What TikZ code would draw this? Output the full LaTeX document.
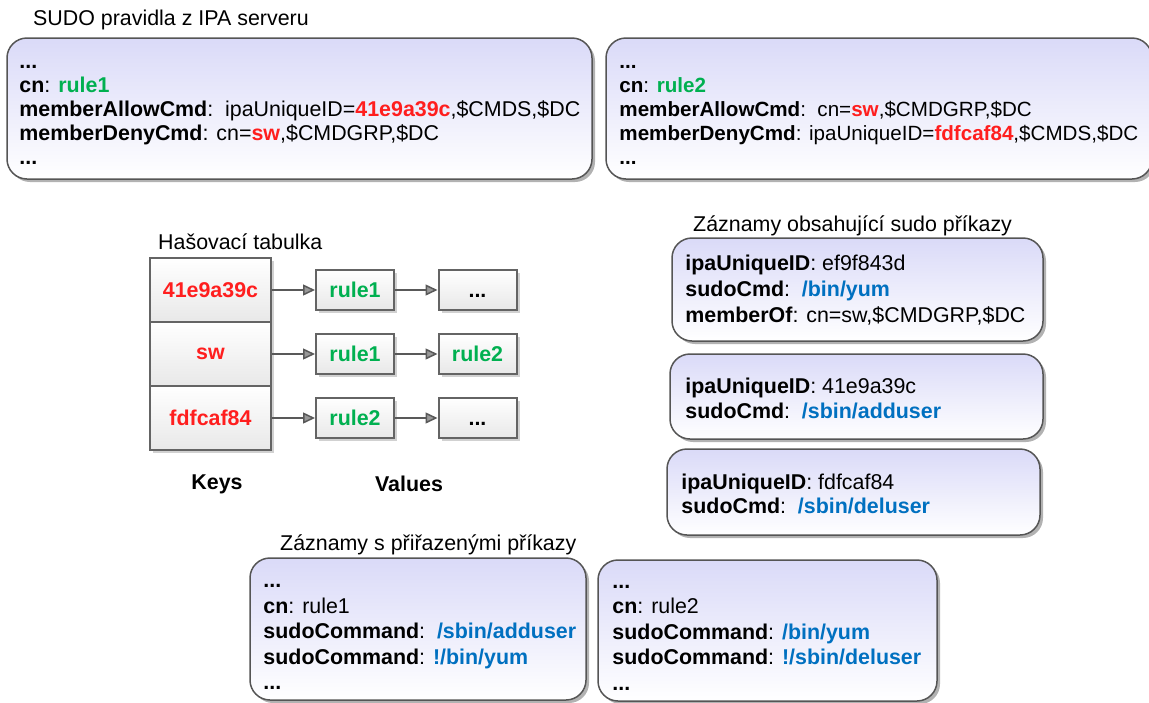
\documentclass[tikz,border=0pt]{standalone}
\usepackage{fontspec}
\setmainfont{Liberation Sans}
\usetikzlibrary{arrows.meta,shadows,calc}

\definecolor{keyred}{RGB}{255,30,30}
\definecolor{rulegreen}{RGB}{0,176,80}
\definecolor{cmdblue}{RGB}{0,112,192}
\definecolor{lav}{RGB}{218,218,248}
\definecolor{boxline}{RGB}{85,85,85}
\definecolor{cellline}{RGB}{100,100,100}

\newcommand{\kr}[1]{\textcolor{keyred}{\textbf{#1}}}
\newcommand{\rg}[1]{\textcolor{rulegreen}{\textbf{#1}}}
\newcommand{\cb}[1]{\textcolor{cmdblue}{\textbf{#1}}}

\begin{document}
\begin{tikzpicture}[x=1pt,y=-1pt,
  every node/.style={font=\fontsize{21.4}{24}\selectfont, inner sep=0pt},
  rbox/.style={draw=boxline, line width=1.5pt, rounded corners=20pt,
    top color=lav, bottom color=white,
    drop shadow={shadow xshift=3pt, shadow yshift=-3pt, fill=black, opacity=0.3}},
  txt/.style={align=left, anchor=west},
  title/.style={anchor=west},
  cell/.style={draw=cellline, line width=2pt, top color=white, bottom color=black!9,
    minimum width=121pt, minimum height=64pt,
    drop shadow={shadow xshift=3pt, shadow yshift=-3pt, fill=black, opacity=0.18}},
  valbox/.style={draw=cellline, line width=2pt, top color=white, bottom color=black!9,
    minimum width=78pt, minimum height=40pt,
    drop shadow={shadow xshift=3pt, shadow yshift=-3pt, fill=black, opacity=0.18}},
  link/.style={draw=black!65, line width=1.5pt,
    -{Triangle[length=12pt,width=11pt,fill=black!40]}},
]
\useasboundingbox (0,0) rectangle (1149,702);

% --- SUDO rules from the IPA server ---
\node[title] (t1) at (33,20) {SUDO pravidla z IPA serveru};
\node[rbox, minimum width=585pt, minimum height=141pt] (sudo1) at (299.5,108.5) {};
\node[txt] (sudo1t) at ([xshift=13pt,yshift=-6pt]sudo1.west) {%
  \textbf{...}\\
  \textbf{cn}: \rg{rule1}\\
  \textbf{memberAllowCmd}:\ \ ipaUniqueID=\kr{41e9a39c},\$CMDS,\$DC\\
  \textbf{memberDenyCmd}: cn=\kr{sw},\$CMDGRP,\$DC\\
  \textbf{...}};

\node[rbox, minimum width=546pt, minimum height=141pt] (sudo2) at (879,108.5) {};
\node[txt, font=\fontsize{20.6}{24}\selectfont] (sudo2t) at ([xshift=14pt,yshift=-6pt]sudo2.west) {%
  \textbf{...}\\
  \textbf{cn}: \rg{rule2}\\
  \textbf{memberAllowCmd}:\ \ cn=\kr{sw},\$CMDGRP,\$DC\\
  \textbf{memberDenyCmd}: ipaUniqueID=\kr{fdfcaf84},\$CMDS,\$DC\\
  \textbf{...}};

% --- hash table ---
\node[title] (t2) at (158,242) {Hašovací tabulka};
\node[cell] (k1) at (210.5,290) {\kr{41e9a39c}};
\node[cell] (k2) at (210.5,354) {\kr{sw}};
\node[cell] (k3) at (210.5,418) {\kr{fdfcaf84}};

\node[valbox] (v11) at (355,290) {\rg{rule1}};
\node[valbox] (v12) at (477.5,290) {\textbf{...}\vphantom{rule1}};
\node[valbox] (v21) at (355,354) {\rg{rule1}};
\node[valbox] (v22) at (477.5,354) {\rg{rule2}};
\node[valbox] (v31) at (355,418) {\rg{rule2}};
\node[valbox] (v32) at (477.5,418) {\textbf{...}\vphantom{rule1}};

\draw[link] (k1) -- (v11);
\draw[link] (v11) -- (v12);
\draw[link] (k2) -- (v21);
\draw[link] (v21) -- (v22);
\draw[link] (k3) -- (v31);
\draw[link] (v31) -- (v32);

\node (keys) at (217,484) {\textbf{Keys}};
\node (vals) at (409,484) {\textbf{Values}};

% --- entries holding sudo commands ---
\node[title] (t3) at (693,226) {Záznamy obsahující sudo příkazy};
\node[rbox, minimum width=371pt, minimum height=103pt] (cmdA) at (857.5,289.5) {};
\node[txt, font=\fontsize{21.4}{26}\selectfont] (cmdAt) at ([xshift=14pt,yshift=-1pt]cmdA.west) {%
  \textbf{ipaUniqueID}: ef9f843d\\
  \textbf{sudoCmd}:\ \ \cb{/bin/yum}\\
  \textbf{memberOf}: cn=sw,\$CMDGRP,\$DC};

\node[rbox, minimum width=373pt, minimum height=85pt] (cmdB) at (856.5,396.5) {};
\node[txt, font=\fontsize{21.4}{25}\selectfont] (cmdBt) at ([xshift=16pt,yshift=-2pt]cmdB.west) {%
  \textbf{ipaUniqueID}: 41e9a39c\\
  \textbf{sudoCmd}:\ \ \cb{/sbin/adduser}};

\node[rbox, minimum width=373pt, minimum height=86pt] (cmdC) at (853.5,492) {};
\node[txt, font=\fontsize{21.4}{24}\selectfont] (cmdCt) at ([xshift=15pt,yshift=-2pt]cmdC.west) {%
  \textbf{ipaUniqueID}: fdfcaf84\\
  \textbf{sudoCmd}:\ \ \cb{/sbin/deluser}};

% --- rules with resolved commands ---
\node[title] (t4) at (280,545) {Záznamy s přiřazenými příkazy};
\node[rbox, minimum width=336pt, minimum height=142pt] (resD) at (418,629) {};
\node[txt, font=\fontsize{21.4}{25.5}\selectfont] (resDt) at ([xshift=14pt,yshift=-8pt]resD.west) {%
  \textbf{...}\\
  \textbf{cn}: rule1\\
  \textbf{sudoCommand}:\ \ \cb{/sbin/adduser}\\
  \textbf{sudoCommand}: \cb{!/bin/yum}\\
  \textbf{...}};

\node[rbox, minimum width=339pt, minimum height=141pt] (resE) at (767.5,630.5) {};
\node[txt, font=\fontsize{21.4}{25.5}\selectfont] (resEt) at ([xshift=15pt,yshift=-7pt]resE.west) {%
  \textbf{...}\\
  \textbf{cn}: rule2\\
  \textbf{sudoCommand}: \cb{/bin/yum}\\
  \textbf{sudoCommand}: \cb{!/sbin/deluser}\\
  \textbf{...}};
\end{tikzpicture}
\end{document}
